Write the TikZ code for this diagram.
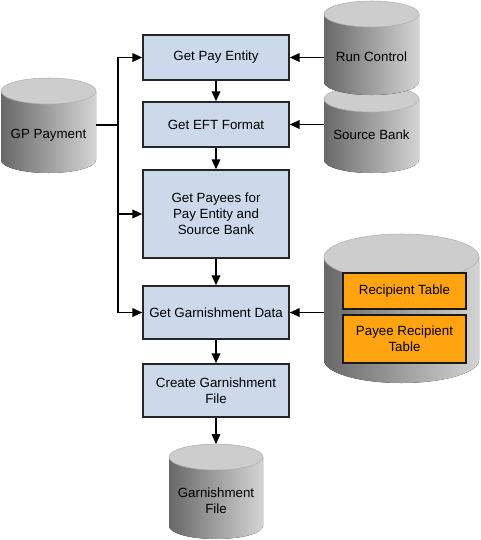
\documentclass[tikz,border=0pt]{standalone}
\usepackage{fontspec}
\setmainfont{Liberation Sans}
\usepackage{xcolor}
\usetikzlibrary{arrows.meta,calc}
\definecolor{procblue}{HTML}{CCD9EB}
\definecolor{taborange}{HTML}{FFA410}
\definecolor{cyldark}{HTML}{686868}
\definecolor{cyllight}{HTML}{D4D4D4}
\definecolor{cyltop}{HTML}{CDCDCD}
\definecolor{cylrim}{HTML}{B0B0B0}

% name, centre x, top y, bottom y, half width, ry, text y, text
\newcommand{\dbcyl}[8]{%
  \fill[left color=cyldark, right color=cyllight] (#2-#5,#3+#6) -- (#2-#5,#4-#6)
    arc[start angle=180, end angle=0, x radius=#5, y radius=#6] -- (#2+#5,#3+#6) -- cycle;
  \filldraw[fill=cyltop, draw=cylrim, line width=0.4pt] (#2,#3+#6) ellipse[x radius=#5, y radius=#6];
  \node[dbtext, minimum width={1.5pt*#5}] (#1) at (#2,#7) {#8};
  \coordinate (#1-top) at (#2,#3);
}

\begin{document}
\begin{tikzpicture}[x=0.75pt, y=-0.75pt, font=\fontsize{10}{12}\selectfont,
  proc/.style={draw=black!85, line width=1.1pt, fill=procblue, minimum width=109.5pt, align=center, inner sep=0pt},
  tab/.style={draw=black!90, line width=1.1pt, fill=taborange, minimum width=92.25pt, align=center, inner sep=0pt},
  dbtext/.style={align=center, inner sep=0pt},
  arr/.style={-{Triangle[length=7.5pt,width=6.5pt]}, line width=1.3pt}]
\useasboundingbox (0,0) rectangle (480,540);

% data stores
\dbcyl{srcbank}{371.5}{86}{173}{47.5}{13}{135}{Source Bank}
\dbcyl{runctl}{371.5}{1}{95}{47.5}{13}{57}{Run Control}
\dbcyl{gppay}{48.5}{78}{173}{47.5}{13}{135}{GP Payment}
\dbcyl{tables}{401.5}{234}{383}{77.5}{23}{312}{}
\dbcyl{gfile}{216}{444}{539}{47}{13}{501}{Garnishment\\File}

\node[tab, minimum height=27pt] (recip) at (404.5,291) {Recipient Table};
\node[tab, minimum height=36pt] (payrecip) at (404.5,339) {Payee Recipient\\Table};

% process steps
\node[proc, minimum height=33.75pt] (payentity) at (216,57.5) {Get Pay Entity};
\node[proc, minimum height=33.75pt] (eft) at (216,124.5) {Get EFT Format};
\node[proc, minimum height=66pt] (payees) at (216,214) {Get Payees for\\Pay Entity and\\Source Bank};
\node[proc, minimum height=39.75pt] (garndata) at (216,312.5) {Get Garnishment Data};
\node[proc, minimum height=39.75pt] (create) at (216,390.5) {Create Garnishment\\File};

\coordinate (split) at (118,125);
\draw[line width=1.3pt] (gppay.east |- split) -- (split);
\draw[arr] (split) |- (payentity);
\draw[arr] (split) |- (payees);
\draw[arr] (split) |- (garndata);

\draw[arr] (runctl.west |- payentity) -- (payentity);
\draw[arr] (srcbank.west |- eft) -- (eft);
\draw[arr] (tables.west |- garndata) -- (garndata);

\path
(payentity) edge[arr] (eft)
(eft) edge[arr] (payees)
(payees) edge[arr] (garndata)
(garndata) edge[arr] (create)
(create) edge[arr] (gfile-top);
\end{tikzpicture}
\end{document}
